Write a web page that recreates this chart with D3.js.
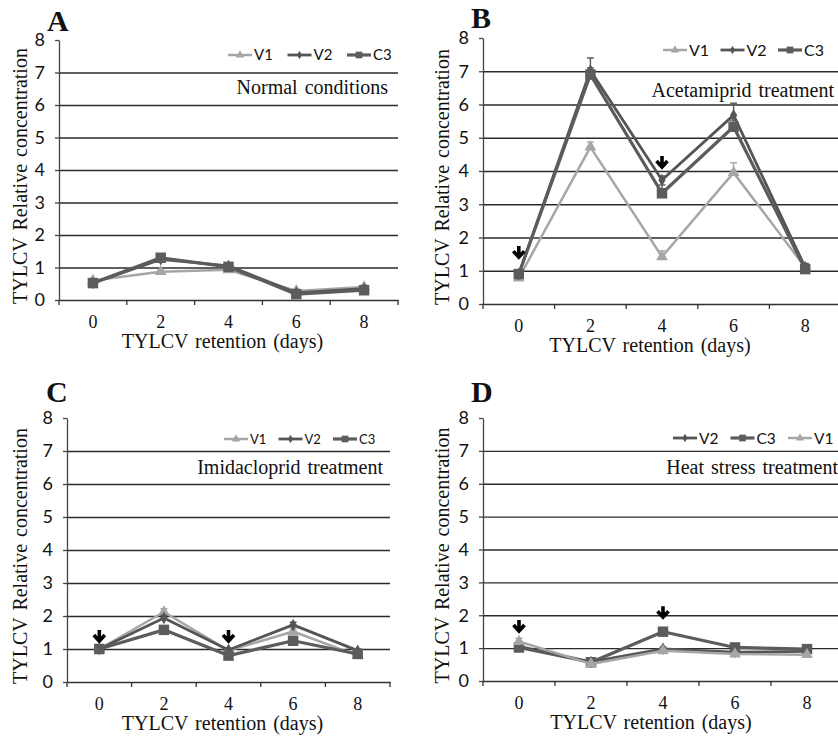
<!DOCTYPE html>
<html>
<head>
<meta charset="utf-8">
<script src="https://cdn.jsdelivr.net/npm/d3@7"></script>
<style>
  body { margin: 0; background: #fff; }
  svg { display: block; }
</style>
</head>
<body>
<svg id="chart" width="838" height="737"></svg>
<script>
// retention days (x categories) and y ticks
var days = ["0", "2", "4", "6", "8"];
var yTicks = [0, 1, 2, 3, 4, 5, 6, 7, 8];
var gridVals = [1, 2, 3, 4, 5, 6, 7];

// A - normal conditions
var normalV1 = [0.6, 0.87, 0.93, 0.28, 0.4];
var normalV2 = [0.52, 1.25, 1.05, 0.22, 0.35];
var normalC3 = [0.52, 1.3, 1.02, 0.18, 0.3];
var normalV1Err = [0.05, 0.06, 0.05, 0.05, 0.06];
var normalV2Err = [0.04, 0.05, 0.05, 0.04, 0.04];
var normalC3Err = [0.04, 0.05, 0.04, 0.03, 0.04];

// B - acetamiprid
var acetV1 = [0.78, 4.72, 1.42, 3.95, 1.1];
var acetV2 = [0.9, 7.02, 3.73, 5.68, 1.1];
var acetC3 = [0.9, 6.9, 3.33, 5.33, 1.05];
var acetV1Err = [0.06, 0.15, 0.18, 0.3, 0.1];
var acetV2Err = [0.05, 0.38, 0.12, 0.36, 0.12];
var acetC3Err = [0.05, 0.2, 0.25, 0.2, 0.1];

// C - imidacloprid
var imidV1 = [1.0, 2.12, 0.95, 1.53, 0.8];
var imidV2 = [1.0, 1.94, 0.97, 1.73, 0.95];
var imidC3 = [1.0, 1.58, 0.8, 1.25, 0.85];
var imidV1Err = [0.04, 0.1, 0.05, 0.08, 0.05];
var imidV2Err = [0.04, 0.08, 0.05, 0.08, 0.05];
var imidC3Err = [0.03, 0.06, 0.04, 0.06, 0.04];

// D - heat stress
var heatV2 = [1.05, 0.58, 0.98, 0.88, 0.9];
var heatC3 = [1.02, 0.57, 1.5, 1.02, 0.97];
var heatV1 = [1.2, 0.52, 0.92, 0.82, 0.8];
var heatV2Err = [0.05, 0.04, 0.05, 0.04, 0.04];
var heatC3Err = [0.04, 0.04, 0.06, 0.04, 0.04];
var heatV1Err = [0.1, 0.04, 0.05, 0.04, 0.04];

// arrows (day, y value of the arrow tip)
var acetArrows = [{day: "0", y: 1.38}, {day: "4", y: 4.09}];
var imidArrows = [{day: "0", y: 1.21}, {day: "4", y: 1.21}];
var heatArrows = [{day: "0", y: 1.49}, {day: "4", y: 1.91}];

var styles = {
  V1: {color: "#a6a6a6", width: 2.5, symbol: d3.symbolTriangle, size: 60, lsize: 30},
  V2: {color: "#555555", width: 2.8, symbol: d3.symbolDiamond, size: 45, lsize: 22},
  C3: {color: "#5c5c5c", width: 3.2, symbol: d3.symbolSquare, size: 110, lsize: 45}
};

var serif = "'Liberation Serif', 'Times New Roman', serif";
var sans = "Lato, 'Open Sans', sans-serif";

var svg = d3.select("#chart");
svg.append("rect").attr("width", 838).attr("height", 737).attr("fill", "#fff");

var panels = [
  {letter: "A", lx: 47, ly: 31, x0: 59, x1: 398, yTop: 40, yBot: 300, ytx: 27,
   title: "Normal conditions", tx: 388, ty: 94,
   legX: 228, legY: 55, legStep: 59.5, legFont: 15,
   series: [["V1", normalV1, normalV1Err], ["V2", normalV2, normalV2Err], ["C3", normalC3, normalC3Err]],
   arrows: []},
  {letter: "B", lx: 471, ly: 28, x0: 483, x1: 841, yTop: 38, yBot: 304, ytx: 449,
   title: "Acetamiprid treatment", tx: 834, ty: 97,
   legX: 663, legY: 50, legStep: 57.5, legFont: 16,
   series: [["V1", acetV1, acetV1Err], ["V2", acetV2, acetV2Err], ["C3", acetC3, acetC3Err]],
   arrows: acetArrows},
  {letter: "C", lx: 46, ly: 402, x0: 67, x1: 390, yTop: 418, yBot: 682, ytx: 27,
   title: "Imidacloprid treatment", tx: 383, ty: 474,
   legX: 224, legY: 439, legStep: 54.5, legFont: 13,
   series: [["V1", imidV1, imidV1Err], ["V2", imidV2, imidV2Err], ["C3", imidC3, imidC3Err]],
   arrows: imidArrows},
  {letter: "D", lx: 471, ly: 402, x0: 483, x1: 843, yTop: 418, yBot: 681, ytx: 449,
   title: "Heat stress treatment", tx: 838, ty: 474,
   legX: 673, legY: 438, legStep: 57.5, legFont: 15.5,
   series: [["V2", heatV2, heatV2Err], ["C3", heatC3, heatC3Err], ["V1", heatV1, heatV1Err]],
   arrows: heatArrows}
];

panels.forEach(drawPanel);

function drawPanel(p) {
  var x = d3.scaleBand().domain(days).range([p.x0, p.x1]);
  var y = d3.scaleLinear().domain([0, 8]).range([p.yBot, p.yTop]);
  var g = svg.append("g");

  // gridlines
  g.append("g")
    .attr("transform", "translate(" + p.x0 + ",0)")
    .call(d3.axisLeft(y).tickValues(gridVals).tickSize(-(p.x1 - p.x0)).tickFormat(""))
    .call(function(a) { a.select(".domain").remove(); })
    .selectAll("line").attr("stroke", "#2b2b2b").attr("stroke-width", 1.3);

  // y axis
  var ya = g.append("g")
    .attr("transform", "translate(" + p.x0 + ",0)")
    .call(d3.axisLeft(y).tickValues(yTicks).tickSize(4).tickSizeOuter(0).tickPadding(10));
  ya.select(".domain").attr("stroke", "#444").attr("stroke-width", 1.3);
  ya.selectAll("line").attr("stroke", "#444").attr("stroke-width", 1.3);
  ya.selectAll("text").attr("font-family", sans).attr("font-size", 18).attr("fill", "#111");

  // x axis (labels at band centres, ticks at band edges)
  var xa = g.append("g")
    .attr("transform", "translate(0," + p.yBot + ")")
    .call(d3.axisBottom(x).tickSize(0).tickSizeOuter(0).tickPadding(15));
  xa.select(".domain").attr("stroke", "#333").attr("stroke-width", 1.3);
  xa.selectAll("text").attr("font-family", serif).attr("font-size", 18).attr("fill", "#111");
  g.selectAll(".xedge")
    .data(days.map(function(d) { return x(d); }).concat([p.x1]))
    .enter().append("line")
    .attr("x1", function(d) { return d; }).attr("x2", function(d) { return d; })
    .attr("y1", p.yBot).attr("y2", p.yBot + 5)
    .attr("stroke", "#333").attr("stroke-width", 1.3);

  // axis titles
  g.append("text")
    .attr("x", (p.x0 + p.x1) / 2 - (p.x0 > 400 ? 12 : 6)).attr("y", p.yBot + 48)
    .attr("text-anchor", "middle")
    .attr("font-family", serif).attr("font-size", 20).attr("word-spacing", 2)
    .attr("fill", "#111")
    .text("TYLCV retention (days)");
  g.append("text")
    .attr("transform", "translate(" + p.ytx + "," + ((p.yTop + p.yBot) / 2 + 6) + ") rotate(-90)")
    .attr("text-anchor", "middle")
    .attr("font-family", serif).attr("font-size", 20).attr("word-spacing", 2)
    .attr("fill", "#111")
    .text("TYLCV Relative concentration");

  // panel letter and condition label
  g.append("text").attr("x", p.lx).attr("y", p.ly)
    .attr("font-family", serif).attr("font-weight", "bold").attr("font-size", 30)
    .attr("fill", "#111").text(p.letter);
  g.append("text").attr("x", p.tx).attr("y", p.ty)
    .attr("text-anchor", "end")
    .attr("font-family", serif).attr("font-size", 20).attr("word-spacing", 2)
    .attr("fill", "#111").text(p.title);

  // series
  var cx = function(i) { return x(days[i]) + x.bandwidth() / 2; };
  p.series.forEach(function(s) {
    var st = styles[s[0]], vals = s[1], errs = s[2];
    var sg = g.append("g");
    // error bars (upper only)
    vals.forEach(function(v, i) {
      var top = y(v + errs[i]);
      sg.append("line").attr("x1", cx(i)).attr("x2", cx(i))
        .attr("y1", y(v)).attr("y2", top)
        .attr("stroke", st.color).attr("stroke-width", 1.4);
      sg.append("line").attr("x1", cx(i) - 3.5).attr("x2", cx(i) + 3.5)
        .attr("y1", top).attr("y2", top)
        .attr("stroke", st.color).attr("stroke-width", 1.4);
    });
    var line = d3.line().x(function(d, i) { return cx(i); }).y(function(d) { return y(d); });
    sg.append("path").datum(vals)
      .attr("d", line).attr("fill", "none")
      .attr("stroke", st.color).attr("stroke-width", st.width)
      .attr("stroke-linejoin", "round");
    sg.selectAll(".pt").data(vals).enter().append("path")
      .attr("transform", function(d, i) { return "translate(" + cx(i) + "," + y(d) + ")"; })
      .attr("d", d3.symbol().type(st.symbol).size(st.size))
      .attr("fill", st.color);
  });

  // legend
  p.series.forEach(function(s, k) {
    var st = styles[s[0]];
    var lx = p.legX + k * p.legStep;
    g.append("line").attr("x1", lx).attr("x2", lx + 24)
      .attr("y1", p.legY).attr("y2", p.legY)
      .attr("stroke", st.color).attr("stroke-width", st.width);
    g.append("path")
      .attr("transform", "translate(" + (lx + 12) + "," + p.legY + ")")
      .attr("d", d3.symbol().type(st.symbol).size(st.lsize))
      .attr("fill", st.color);
    g.append("text").attr("x", lx + 26).attr("y", p.legY)
      .attr("dy", "0.36em")
      .attr("font-family", sans).attr("font-size", p.legFont)
      .attr("fill", "#111").text(s[0]);
  });

  // arrows
  p.arrows.forEach(function(a) {
    var ax = x(a.day) + x.bandwidth() / 2, ay = y(a.y);
    g.append("path")
      .attr("d", "M" + ax + "," + (ay - 12) + "V" + (ay - 2) +
                 "M" + (ax - 5.5) + "," + (ay - 7) + "L" + ax + "," + (ay - 1) + "L" + (ax + 5.5) + "," + (ay - 7))
      .attr("fill", "none").attr("stroke", "#000").attr("stroke-width", 3.6)
      .attr("stroke-linejoin", "miter");
  });
}
</script>
</body>
</html>
